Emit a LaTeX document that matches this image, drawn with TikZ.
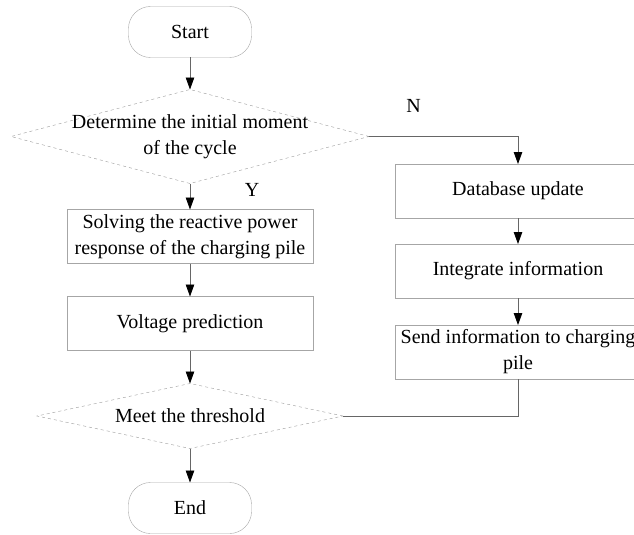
\documentclass[tikz,border=0pt]{standalone}
\usepackage{fontspec}
\setmainfont{Liberation Serif}
\usetikzlibrary{shapes,shapes.geometric,arrows.meta,positioning,calc}
\tikzset{
    box/.style={draw=black!35, rectangle, minimum width=246pt,
    minimum height=54pt, align=center, outer sep=0pt, inner sep=2pt},
    terminal/.style={draw=black!35, rectangle, rounded corners=22pt,
    minimum width=123pt, minimum height=51pt, outer sep=0pt},
    decision/.style={draw=black!40, dashed, diamond, inner sep=0pt, outer sep=0pt},
    conn/.style={draw=black!60, line width=0.8pt},
    flow/.style={conn, -{Triangle[length=12pt,width=8.5pt,fill=black,color=black]}}
}
\begin{document}
\begin{tikzpicture}[x=1pt, y=-1pt, font=\fontsize{20}{26}\selectfont]
  \useasboundingbox (0,0) rectangle (634,535);
  \clip (0,0) rectangle (634,535);

  % main column
  \node[terminal] (start) at (190,32) {Start};
  \node[decision, minimum width=358pt, minimum height=94pt, below=32pt of start,
        label={[align=center]center:Determine the initial moment\\of the cycle}] (cycle) {};
  \node[box, below=26pt of cycle] (solve) {Solving the reactive power\\response of the charging pile};
  \node[box, below=33pt of solve] (volt) {Voltage prediction};
  \node[decision, minimum width=306pt, minimum height=65pt, below=33pt of volt,
        label=center:Meet the threshold] (meet) {};
  \node[terminal, below=34pt of meet] (stop) {End};

  % right column
  \node[box] (db) at (518,191) {Database update};
  \node[box, below=26pt of db] (integ) {Integrate information};
  \node[box, below=27pt of integ] (send) {Send information to charging\\pile};

  \draw[flow] (start) -- (cycle);
  \draw[flow] (cycle) -- node[pos=0.25, xshift=62pt] (ylab) {Y} (solve);
  \draw[flow] (cycle.east) -| node[pos=0.15, yshift=31pt] (nlab) {N} (db.north);
  \draw[flow] (solve) -- (volt);
  \draw[flow] (volt) -- (meet);
  \draw[flow] (meet) -- (stop);
  \draw[flow] (db) -- (integ);
  \draw[flow] (integ) -- (send);
  \draw[conn] (send.south) |- (meet.east);
\end{tikzpicture}
\end{document}
